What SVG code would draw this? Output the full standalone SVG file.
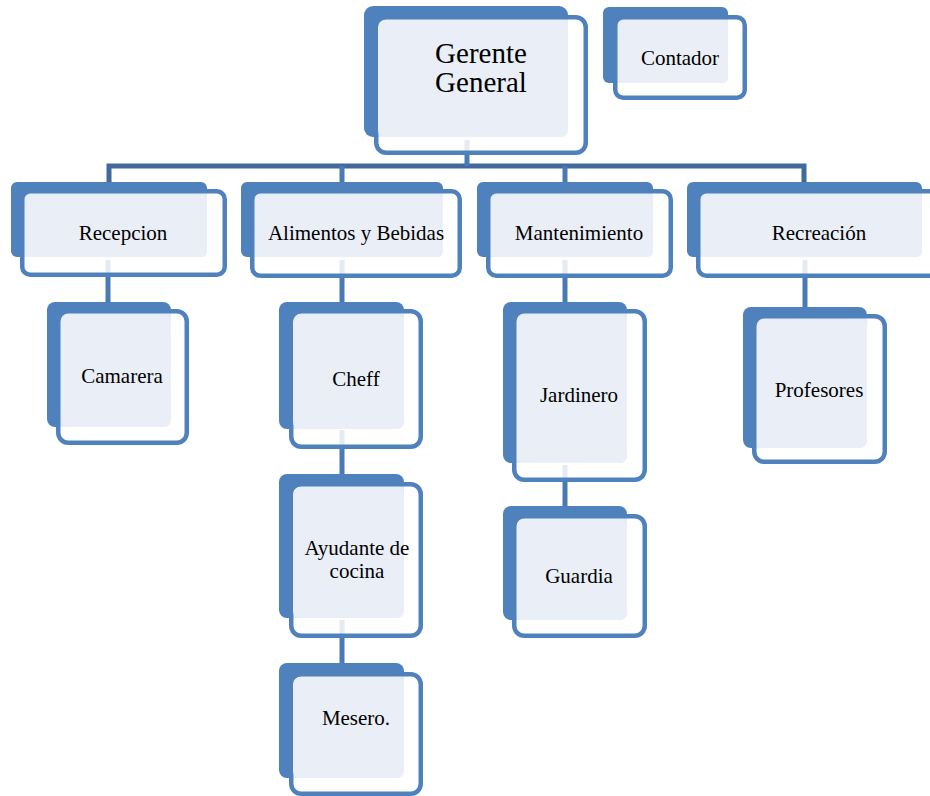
<svg xmlns="http://www.w3.org/2000/svg" width="930" height="796" viewBox="0 0 930 796">
<style>
.bk{fill:#4F81BD}
.ol{fill:#FFFFFF;fill-opacity:0.85;stroke:#4F81BD;stroke-width:4.5}
.lt{fill:#EAEFF7}
.t{font-size:21px;fill:#000;text-anchor:middle}
.big{font-size:29px}
.bus{fill:none;stroke:#41699C;stroke-width:5}
.drop{fill:none;stroke:#4A7AB5;stroke-width:5}
</style>
<rect width="930" height="796" fill="#FFFFFF"/>
<g id="connectors">
<path class="bus" d="M109,182 V166 H804 V182"/>
<path class="drop" d="M467,140 V166 M342,166 V182 M565,166 V182"/>
<path class="drop" d="M108,260 V302"/>
<path class="drop" d="M342,260 V302 M342,430 V474 M342,620 V663"/>
<path class="drop" d="M565,260 V302 M565,465 V506"/>
<path class="drop" d="M805,260 V307"/>
</g>
<g font-family="Liberation Serif, Tinos, Times New Roman, Times, serif">
<g id="gerente">
<rect class="bk" x="364" y="6" width="204" height="131" rx="9"/>
<rect class="ol" x="376.25" y="17.25" width="209.5" height="135.5" rx="10"/>
<rect class="lt" x="378" y="20" width="190" height="117" rx="7"/>
<text class="t big" x="481" y="63">Gerente</text>
<text class="t big" x="481" y="92">General</text>
</g>
<g id="contador">
<rect class="bk" x="603" y="7" width="125" height="76" rx="6"/>
<rect class="ol" x="615.25" y="17.25" width="129.5" height="80.5" rx="8"/>
<rect class="lt" x="618" y="21" width="110" height="62" rx="5"/>
<text class="t" x="680" y="65">Contador</text>
</g>
<g id="recepcion">
<rect class="bk" x="11" y="182" width="196" height="75" rx="6"/>
<rect class="ol" x="22.25" y="191.25" width="202.5" height="83.5" rx="8"/>
<rect class="lt" x="25" y="195" width="182" height="62" rx="5"/>
<text class="t" x="123" y="240">Recepcion</text>
</g>
<g id="alimentos">
<rect class="bk" x="241" y="182" width="202" height="75" rx="6"/>
<rect class="ol" x="252.25" y="191.25" width="207.5" height="84.5" rx="8"/>
<rect class="lt" x="255" y="195" width="188" height="62" rx="5"/>
<text class="t" x="356" y="240">Alimentos y Bebidas</text>
</g>
<g id="mantenimiento">
<rect class="bk" x="477" y="182" width="176" height="75" rx="6"/>
<rect class="ol" x="488.25" y="191.25" width="182.5" height="84.5" rx="8"/>
<rect class="lt" x="491" y="195" width="162" height="62" rx="5"/>
<text class="t" x="579" y="240">Mantenimiento</text>
</g>
<g id="recreacion">
<rect class="bk" x="687" y="182" width="235" height="75" rx="6"/>
<rect class="ol" x="698.25" y="191.25" width="241.5" height="84.5" rx="8"/>
<rect class="lt" x="701" y="195" width="221" height="62" rx="5"/>
<text class="t" x="819" y="240">Recreación</text>
</g>
<g id="camarera">
<rect class="bk" x="47" y="302" width="124" height="125" rx="8"/>
<rect class="ol" x="58.25" y="311.25" width="128.5" height="131.5" rx="10"/>
<rect class="lt" x="61" y="315" width="110" height="112" rx="7"/>
<text class="t" x="122" y="383">Camarera</text>
</g>
<g id="cheff">
<rect class="bk" x="279" y="302" width="125" height="127" rx="8"/>
<rect class="ol" x="291.25" y="311.25" width="129.5" height="135.5" rx="10"/>
<rect class="lt" x="293" y="315" width="111" height="114" rx="7"/>
<text class="t" x="356" y="386">Cheff</text>
</g>
<g id="ayudante">
<rect class="bk" x="279" y="474" width="125" height="144" rx="8"/>
<rect class="ol" x="291.25" y="484.25" width="129.5" height="151.5" rx="10"/>
<rect class="lt" x="293" y="487" width="111" height="131" rx="7"/>
<text class="t" x="357" y="555">Ayudante de</text>
<text class="t" x="357" y="578">cocina</text>
</g>
<g id="mesero">
<rect class="bk" x="279" y="663" width="125" height="115" rx="8"/>
<rect class="ol" x="291.25" y="674.25" width="129.5" height="119.5" rx="10"/>
<rect class="lt" x="293" y="677" width="111" height="101" rx="7"/>
<text class="t" x="356" y="725">Mesero.</text>
</g>
<g id="jardinero">
<rect class="bk" x="503" y="302" width="124" height="161" rx="8"/>
<rect class="ol" x="514.25" y="311.25" width="130.5" height="168.5" rx="10"/>
<rect class="lt" x="517" y="315" width="110" height="148" rx="7"/>
<text class="t" x="579" y="402">Jardinero</text>
</g>
<g id="guardia">
<rect class="bk" x="503" y="506" width="124" height="114" rx="8"/>
<rect class="ol" x="514.25" y="516.25" width="130.5" height="119.5" rx="10"/>
<rect class="lt" x="517" y="519" width="110" height="101" rx="7"/>
<text class="t" x="579" y="583">Guardia</text>
</g>
<g id="profesores">
<rect class="bk" x="743" y="307" width="124" height="141" rx="8"/>
<rect class="ol" x="754.25" y="316.25" width="130.5" height="145.5" rx="10"/>
<rect class="lt" x="757" y="320" width="110" height="128" rx="7"/>
<text class="t" x="819" y="397">Profesores</text>
</g>
</g>
</svg>
